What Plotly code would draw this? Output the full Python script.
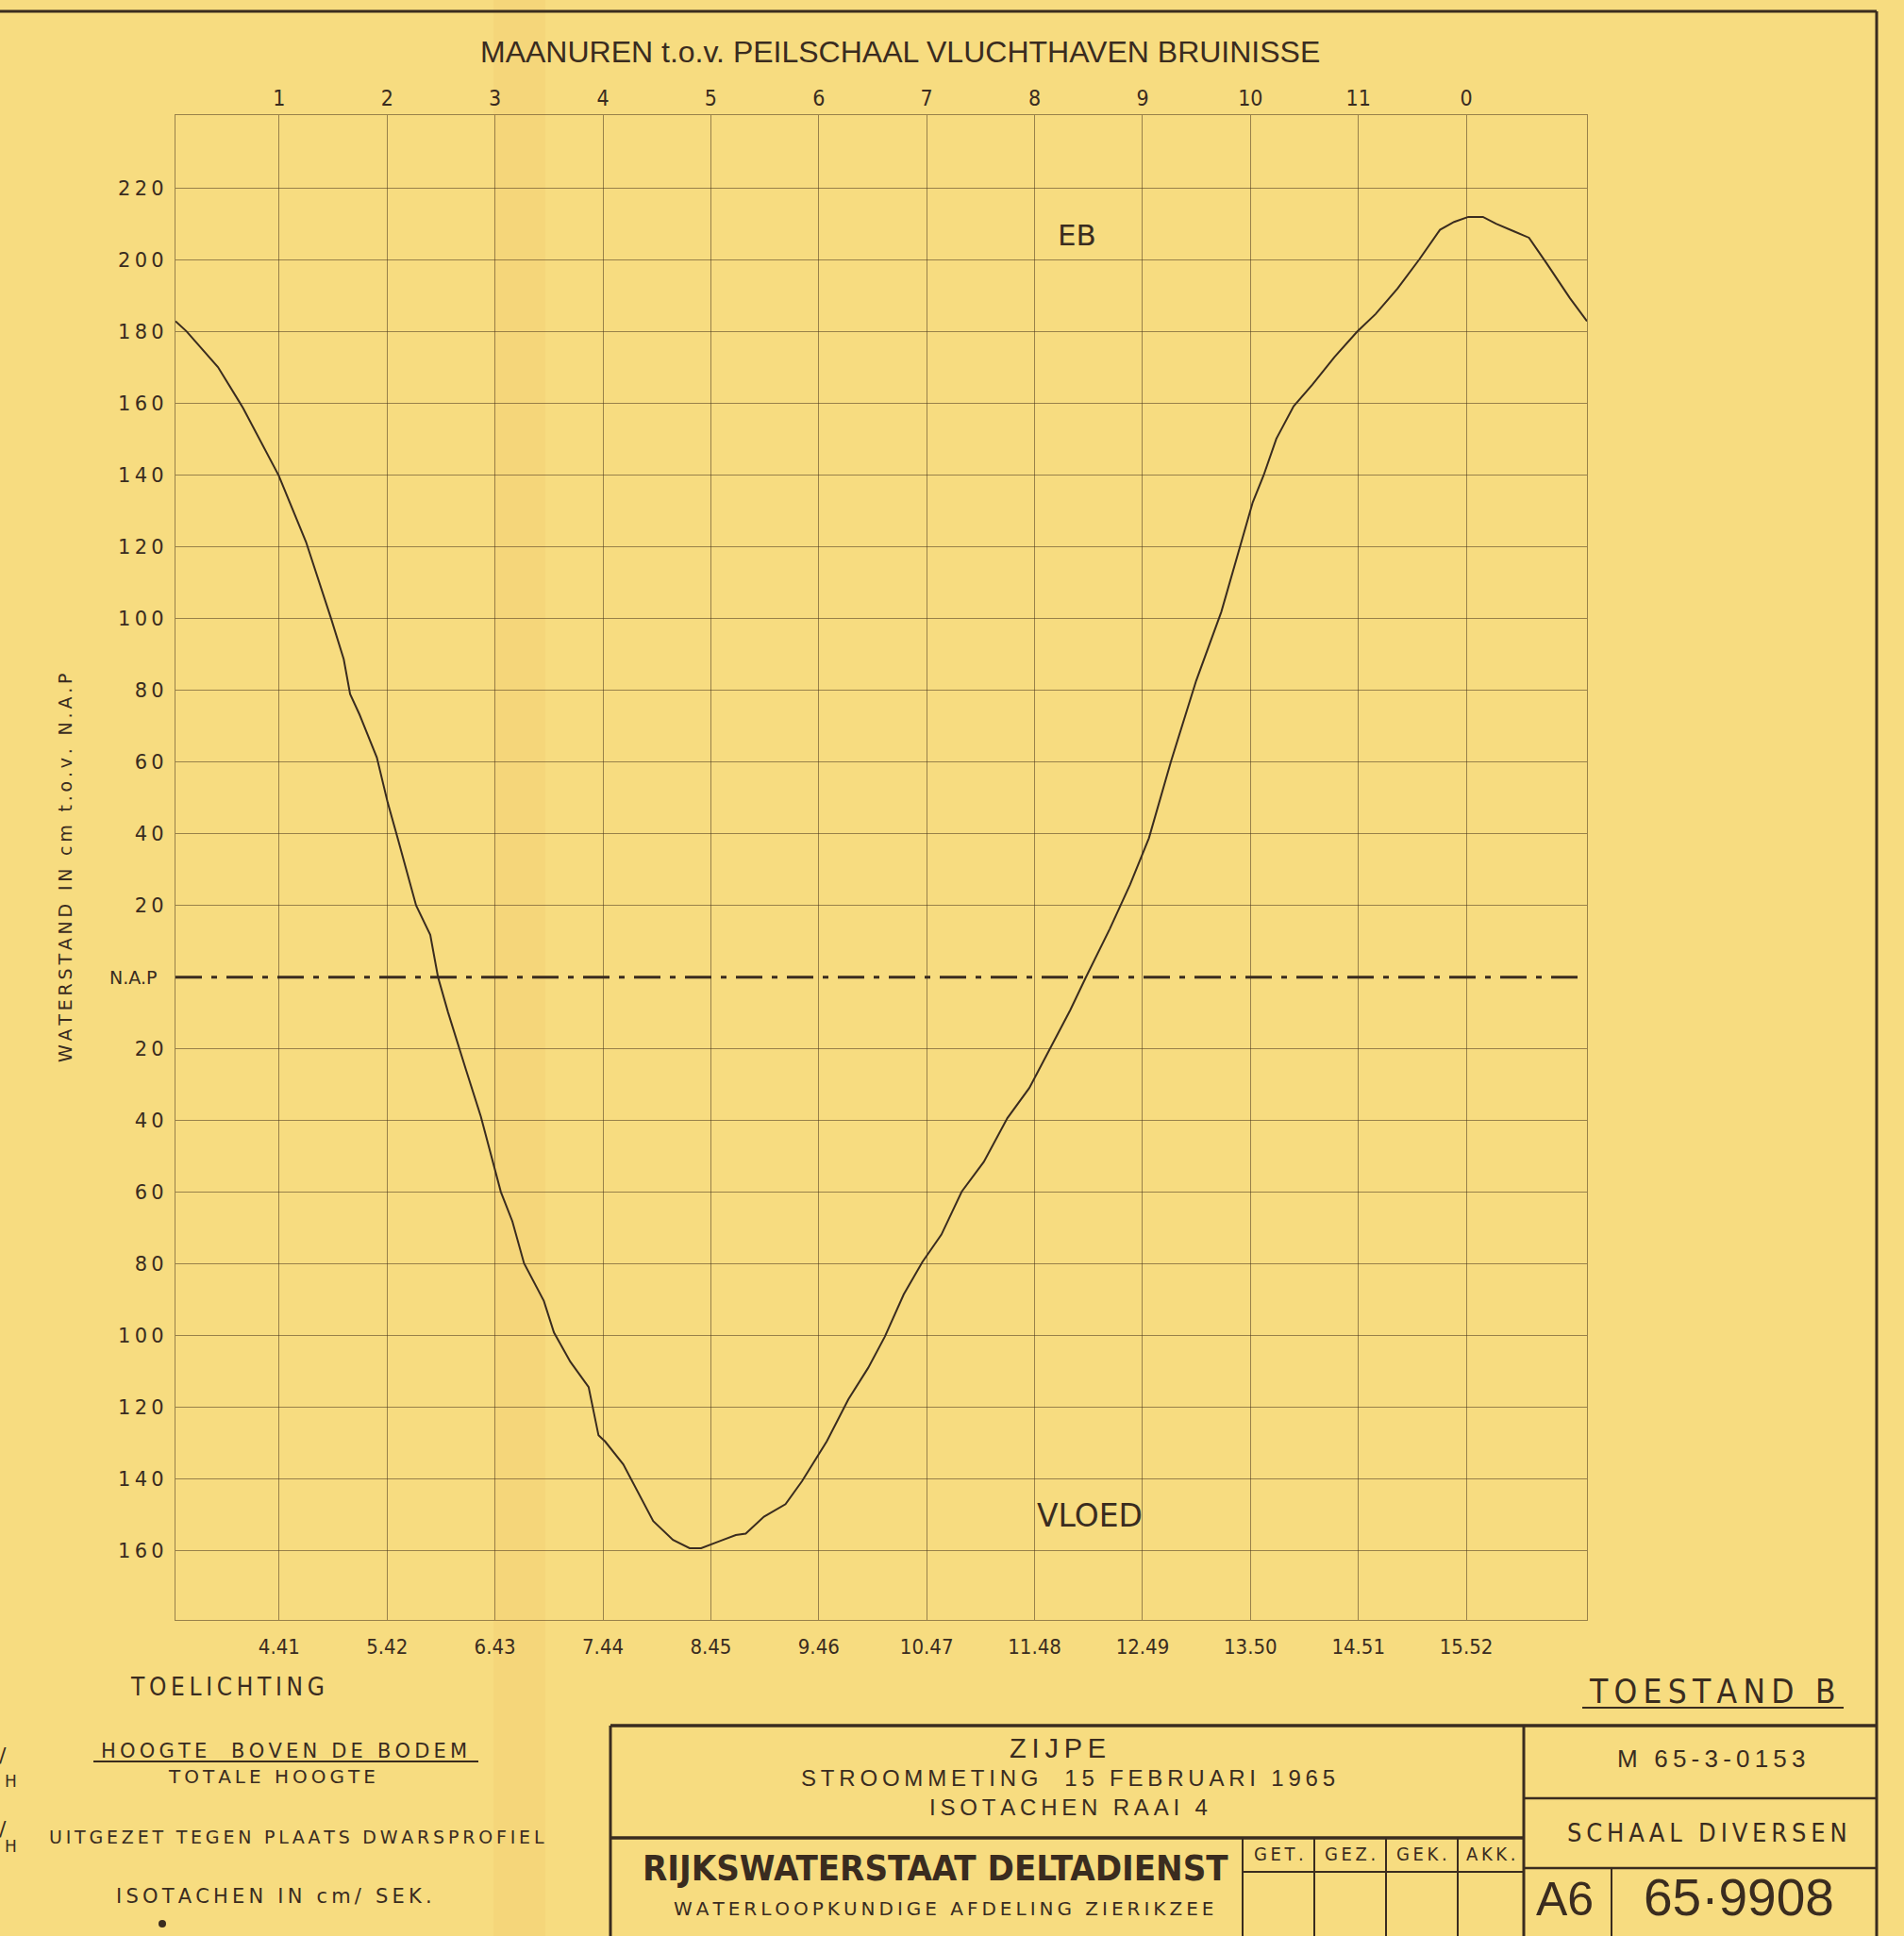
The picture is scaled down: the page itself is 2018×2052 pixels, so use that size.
import plotly.graph_objects as go

# -------------------------------------------------
# Data
# -------------------------------------------------
# clock time (h.mm) under each moon-hour line, and the moon hours on top
clock_labels = ["4.41", "5.42", "6.43", "7.44", "8.45", "9.46",
                "10.47", "11.48", "12.49", "13.50", "14.51", "15.52"]
moon_hours = ["1", "2", "3", "4", "5", "6", "7", "8", "9", "10", "11", "0"]

# water level ticks (cm t.o.v. N.A.P); 0 is labelled N.A.P separately
level_ticks = [220, 200, 180, 160, 140, 120, 100, 80, 60, 40, 20,
               -20, -40, -60, -80, -100, -120, -140, -160]

# tide curve: clock time in minutes since midnight, level in cm
time_min = [222.4, 228.6, 246.4, 260.6, 280.7, 296.2, 310.4, 317.5, 321.1,
            326.4, 336.2, 342.4, 347.7, 358.4, 366.4, 370.8, 376.4, 382.9,
            386.7, 395.0, 406.3, 412.8, 419.4, 430.6, 436.3, 445.6, 455.9,
            461.5, 465.2, 475.5, 492.4, 503.6, 513.0, 519.5, 531.6, 539.1,
            544.7, 555.0, 567.2, 576.5, 590.5, 602.7, 613.9, 623.3, 634.0,
            644.6, 655.3, 666.8, 679.3, 692.6, 705.0, 718.4, 728.1, 737.0,
            750.4, 762.0, 770.0, 772.6, 785.0, 799.3, 813.5, 824.1, 831.3,
            837.5, 844.6, 854.4, 865.0, 877.5, 890.3, 900.7, 913.1, 925.5,
            937.1, 945.1, 953.1, 961.4, 968.8, 979.3, 987.4, 997.3, 1010.6,
            1020.2]
level_cm = [183, 180.2, 170.2, 158.8, 140, 121.4, 100, 88.7, 79,
            73.3, 61.3, 48.6, 39.3, 20, 11.8, 0, -9.7, -20.2,
            -26, -38.9, -59.9, -68.1, -79.8, -90.3, -99.1, -107.3, -114.3,
            -127.8, -129.5, -135.9, -151.7, -157, -159.3, -159.3, -157, -155.6,
            -155.2, -150.5, -147, -140.6, -129.5, -117.8, -109, -100.3, -88.5,
            -79.4, -71.8, -59.8, -51.5, -39.3, -30.9, -18.3, -9.2, 0,
            13.4, 25.9, 35.9, 38.8, 60.1, 82.7, 101.9, 120.4, 132.5,
            140.1, 150.2, 159.3, 165.3, 173, 180.1, 185, 192.1, 200.3,
            208.5, 210.7, 212.1, 212.1, 210.2, 208, 206.3, 199.2, 189.4,
            183]

X_RANGE = [222.4, 1020.2]
Y_RANGE = [-179.3, 240.5]

# -------------------------------------------------
# Look
# -------------------------------------------------
PAPER = "#f7dc80"
INK = "#3a2c1f"
GRID = "rgba(75,55,30,0.55)"
NARROW = "Liberation Sans Narrow, DejaVu Sans Condensed, Liberation Sans, sans-serif"
REG = "Liberation Sans, Arial, sans-serif"
WIDE = "DejaVu Sans, Verdana, sans-serif"

W, H = 2018, 2052
PL, PR, PT, PB = 186, 1682, 122, 1717   # plot box in page pixels


def px_x(x):
    return (x - PL) / (PR - PL)


def px_y(y):
    return (PB - y) / (PB - PT)


def spaced(s, gap="\u2009"):
    return gap.join(s)


tick_minutes = [int(h) * 60 + int(m) for h, m in (s.split(".") for s in clock_labels)]

fig = go.Figure()

# N.A.P reference line
fig.add_trace(go.Scatter(
    x=X_RANGE, y=[0, 0], mode="lines",
    line=dict(color=INK, width=3, dash="28px,10px,6px,10px"),
    hoverinfo="skip", showlegend=False
))

# tide curve
fig.add_trace(go.Scatter(
    x=time_min, y=level_cm, mode="lines",
    line=dict(color=INK, width=2),
    hoverinfo="skip", showlegend=False
))

# dummy trace so the top (moon hour) axis is drawn
fig.add_trace(go.Scatter(
    x=tick_minutes, y=[None] * len(tick_minutes), xaxis="x2",
    mode="lines", hoverinfo="skip", showlegend=False
))

fig.update_layout(
    width=W, height=H,
    margin=dict(l=PL, r=W - PR, t=PT, b=H - PB),
    paper_bgcolor=PAPER,
    plot_bgcolor="rgba(0,0,0,0)",
    hovermode=False,
    font=dict(family=WIDE, color=INK),
    xaxis=dict(
        range=X_RANGE, tickvals=tick_minutes, ticktext=clock_labels,
        showgrid=True, gridcolor=GRID, gridwidth=1.2, zeroline=False,
        showline=True, mirror=True, linecolor=GRID, linewidth=1.4,
        ticks="", ticklabelstandoff=8,
        tickfont=dict(family=NARROW, size=22, color=INK),
    ),
    xaxis2=dict(
        range=X_RANGE, overlaying="x", side="top",
        tickvals=tick_minutes, ticktext=moon_hours,
        showgrid=False, zeroline=False, showline=False, ticks="",
        ticklabelstandoff=4,
        tickfont=dict(family=NARROW, size=23, color=INK),
    ),
    yaxis=dict(
        range=Y_RANGE, tickvals=level_ticks,
        ticktext=[spaced(str(abs(v))) for v in level_ticks],
        showgrid=True, gridcolor=GRID, gridwidth=1, zeroline=False,
        showline=True, mirror=True, linecolor=GRID, linewidth=1.4,
        ticks="", ticklabelstandoff=7,
        tickfont=dict(family=WIDE, size=21, color=INK),
    ),
)

# -------------------------------------------------
# Texts
# -------------------------------------------------
notes = []


def page_text(text, x, y, size, family=NARROW, xanchor="center", bold=False, angle=0):
    if bold:
        text = "<b>" + text + "</b>"
    notes.append(dict(
        text=text, x=px_x(x), y=px_y(y), xref="paper", yref="paper",
        xanchor=xanchor, yanchor="middle", showarrow=False, textangle=angle,
        font=dict(family=family, size=size, color=INK)
    ))


page_text("MAANUREN t.o.v. PEILSCHAAL VLUCHTHAVEN BRUINISSE", 954, 55, 32, family=REG)
page_text(spaced("WATERSTAND IN cm t.o.v. N.A.P"), 69, 920, 19, family=WIDE, angle=-90)

notes.append(dict(
    text="N.A.P", x=px_x(168), y=0, xref="paper", yref="y",
    xanchor="right", yanchor="middle", showarrow=False,
    font=dict(family=WIDE, size=19, color=INK)
))
notes.append(dict(
    text="EB", x=731.7, y=207, xref="x", yref="y", showarrow=False,
    font=dict(family=WIDE, size=31, color=INK)
))
notes.append(dict(
    text="VLOED", x=739.2, y=-150.3, xref="x", yref="y", showarrow=False,
    font=dict(family=WIDE, size=33, color=INK)
))

# legend notes, bottom left
page_text(spaced("TOELICHTING"), 241, 1788, 26)
page_text(spaced("HOOGTE  BOVEN DE BODEM"), 301, 1856, 21, family=WIDE)
page_text(spaced("TOTALE HOOGTE"), 288, 1883, 20, family=WIDE)
page_text("/", 3, 1860, 22, family=WIDE)
page_text("H", 11, 1888, 17, family=WIDE)
page_text("/", 3, 1938, 22, family=WIDE)
page_text("H", 11, 1957, 17, family=WIDE)
page_text(spaced("UITGEZET TEGEN PLAATS DWARSPROFIEL"), 314, 1947, 19, family=WIDE)
page_text(spaced("ISOTACHEN IN cm/ SEK."), 290, 2010, 21, family=WIDE)

# title block
page_text(spaced("TOESTAND B"), 1815, 1793, 35)
page_text(spaced("ZIJPE"), 1121, 1853, 29, family=REG)
page_text(spaced("STROOMMETING  15 FEBRUARI 1965"), 1132, 1884, 24, family=REG)
page_text(spaced("ISOTACHEN RAAI 4"), 1132, 1915, 24, family=REG)
page_text("RIJKSWATERSTAAT DELTADIENST", 991, 1980, 38, bold=True)
page_text(spaced("WATERLOOPKUNDIGE AFDELING ZIERIKZEE"), 1000, 2023, 20, family=WIDE)
for label, cx in zip(["GET.", "GEZ.", "GEK.", "AKK."], [1355, 1431, 1507, 1580]):
    page_text(spaced(label), cx, 1965, 20)
page_text(spaced("M 65-3-0153"), 1813, 1864, 26, family=REG)
page_text(spaced("SCHAAL DIVERSEN"), 1809, 1942, 27)
page_text("A6", 1658, 2013, 50, family=REG)
page_text("65·9908", 1843, 2011, 55, family=REG)

fig.update_layout(annotations=notes)

# -------------------------------------------------
# Drawing frame and title block lines
# -------------------------------------------------
frame = [
    # (x0, y0, x1, y1, width)
    (0, 12, 1989, 12, 3),
    (1989, 12, 1989, 2052, 3),
    (647, 1829, 1989, 1829, 3.5),
    (647, 1829, 647, 2052, 3),
    (1615, 1829, 1615, 2052, 3),
    (647, 1948, 1615, 1948, 3.5),
    (1615, 1906, 1989, 1906, 2.5),
    (1615, 1980, 1989, 1980, 2.5),
    (1708, 1980, 1708, 2052, 2),
    (1317, 1948, 1317, 2052, 2),
    (1393, 1948, 1393, 2052, 2),
    (1469, 1948, 1469, 2052, 2),
    (1545, 1948, 1545, 2052, 2),
    (1317, 1984, 1615, 1984, 2),
    (1677, 1810, 1954, 1810, 2),
    (99, 1867, 507, 1867, 2),
]
shapes = [
    dict(type="rect", xref="paper", yref="paper",
         x0=px_x(523), x1=px_x(578), y0=px_y(0), y1=px_y(H),
         fillcolor="rgba(232,170,70,0.10)", line=dict(width=0), layer="below"),
    dict(type="circle", xref="paper", yref="paper",
         x0=px_x(168), x1=px_x(176), y0=px_y(2035), y1=px_y(2043),
         fillcolor=INK, line=dict(width=0)),
]
for x0, y0, x1, y1, lw in frame:
    shapes.append(dict(
        type="line", xref="paper", yref="paper",
        x0=px_x(x0), y0=px_y(y0), x1=px_x(x1), y1=px_y(y1),
        line=dict(color=INK, width=lw)
    ))
fig.update_layout(shapes=shapes)

# page body margin off, so the drawing sits flush with the window
fig.write_html(
    "out.html",
    config={"displayModeBar": False},
    post_script="document.body.style.margin='0';"
                "document.body.style.background='" + PAPER + "';"
)
